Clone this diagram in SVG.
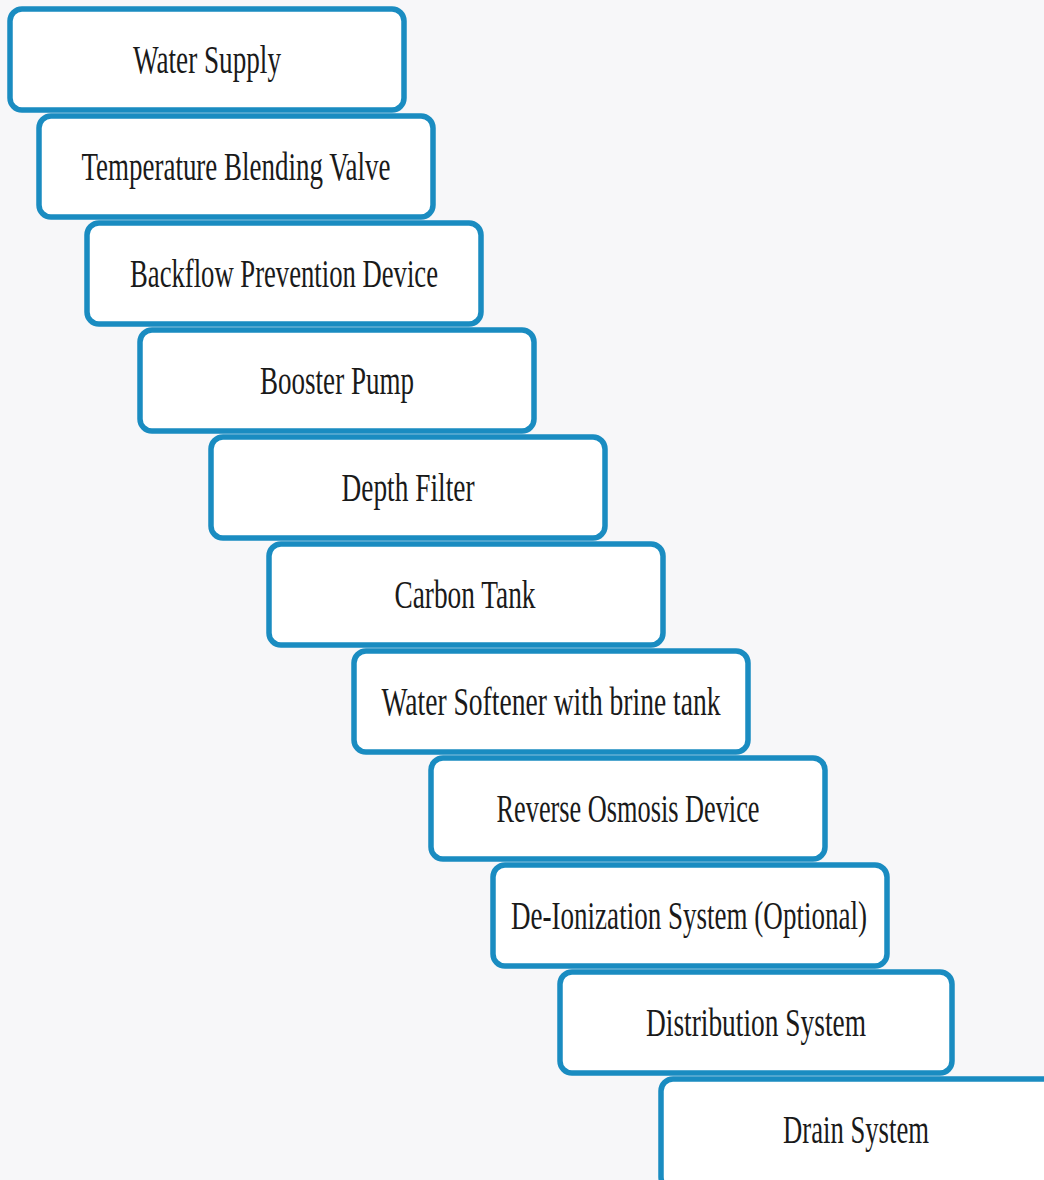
<svg xmlns="http://www.w3.org/2000/svg" width="1044" height="1180" viewBox="0 0 1044 1180">
<style>
.box{fill:#ffffff;stroke:#1a8cc1;stroke-width:5.5}
.lbl{font-family:"Liberation Serif","DejaVu Serif",serif;font-size:41px;fill:#1a1a1a;text-anchor:middle}
</style>
<rect width="1044" height="1180" fill="#f7f7f9"/>
<g id="n1"><rect class="box" x="10" y="9" width="394" height="101" rx="12"/><text class="lbl" transform="translate(207 73) scale(0.6 1)" textLength="246.7" lengthAdjust="spacingAndGlyphs">Water Supply</text></g>
<g id="n2"><rect class="box" x="39" y="116" width="394" height="101" rx="12"/><text class="lbl" transform="translate(236 180) scale(0.6 1)" textLength="515" lengthAdjust="spacingAndGlyphs">Temperature Blending Valve</text></g>
<g id="n3"><rect class="box" x="87" y="223" width="394" height="101" rx="12"/><text class="lbl" transform="translate(284 287) scale(0.6 1)" textLength="513.3" lengthAdjust="spacingAndGlyphs">Backflow Prevention Device</text></g>
<g id="n4"><rect class="box" x="140" y="330" width="394" height="101" rx="12"/><text class="lbl" transform="translate(337 394) scale(0.6 1)" textLength="256.7" lengthAdjust="spacingAndGlyphs">Booster Pump</text></g>
<g id="n5"><rect class="box" x="211" y="437" width="394" height="101" rx="12"/><text class="lbl" transform="translate(408 501) scale(0.6 1)" textLength="221.7" lengthAdjust="spacingAndGlyphs">Depth Filter</text></g>
<g id="n6"><rect class="box" x="269" y="544" width="394" height="101" rx="12"/><text class="lbl" transform="translate(465 608) scale(0.6 1)" textLength="235" lengthAdjust="spacingAndGlyphs">Carbon Tank</text></g>
<g id="n7"><rect class="box" x="354" y="651" width="394" height="101" rx="12"/><text class="lbl" transform="translate(551 715) scale(0.6 1)" textLength="565" lengthAdjust="spacingAndGlyphs">Water Softener with brine tank</text></g>
<g id="n8"><rect class="box" x="431" y="758" width="394" height="101" rx="12"/><text class="lbl" transform="translate(628 822) scale(0.6 1)" textLength="438.3" lengthAdjust="spacingAndGlyphs">Reverse Osmosis Device</text></g>
<g id="n9"><rect class="box" x="493" y="865" width="394" height="101" rx="12"/><text class="lbl" transform="translate(689 929) scale(0.6 1)" textLength="593.3" lengthAdjust="spacingAndGlyphs">De-Ionization System (Optional)</text></g>
<g id="n10"><rect class="box" x="560" y="972" width="392" height="101" rx="12"/><text class="lbl" transform="translate(756 1036) scale(0.6 1)" textLength="366.7" lengthAdjust="spacingAndGlyphs">Distribution System</text></g>
<g id="n11"><rect class="box" x="661" y="1079" width="400" height="110" rx="12"/><text class="lbl" transform="translate(856 1143) scale(0.6 1)" textLength="243.3" lengthAdjust="spacingAndGlyphs">Drain System</text></g>
<g id="connectors"></g>
</svg>
